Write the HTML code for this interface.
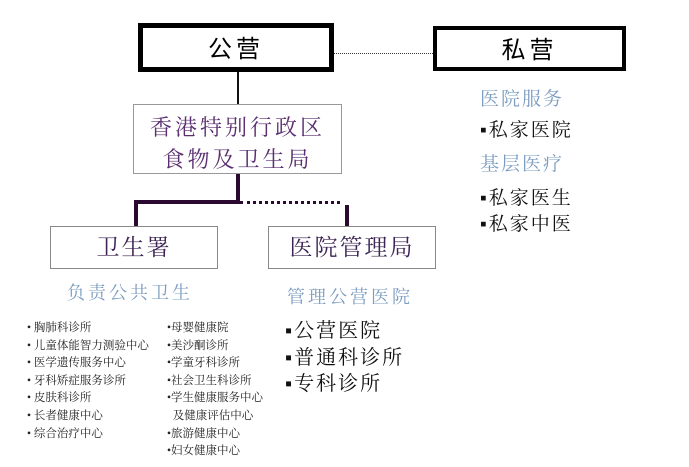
<!DOCTYPE html>
<html><head><meta charset="utf-8"><style>
body{margin:0;width:689px;height:467px;background:#fff;position:relative;overflow:hidden;font-family:"Liberation Serif","Noto Serif CJK SC",serif}
div{position:absolute;box-sizing:border-box}
.t{white-space:nowrap;line-height:1}
.blue{color:#7b9cc0}
.s{font-size:11.5px;color:#222;line-height:17.6px;white-space:nowrap}
</style></head><body>
<div style="left:138px;top:23px;width:196px;height:49px;border:5px solid #000"></div>
<div class="t" style="left:138px;top:35px;width:196px;text-align:center;font-size:24px;font-family:'Noto Sans CJK SC',sans-serif;letter-spacing:4px">公营</div>
<div style="left:433px;top:26px;width:193px;height:45px;border:4px solid #000"></div>
<div class="t" style="left:433px;top:36px;width:193px;text-align:center;font-size:24px;font-family:'Noto Sans CJK SC',sans-serif;letter-spacing:4px">私营</div>
<div style="left:334px;top:53px;width:99px;border-top:1.5px dotted #333"></div>
<div style="left:237px;top:72px;width:2px;height:32px;background:#111"></div>
<div style="left:133px;top:104px;width:209px;height:70px;border:1px solid #999"></div>
<div class="t" style="left:133px;top:112px;width:209px;text-align:center;font-size:22px;color:#5a2e70;line-height:32px;letter-spacing:3px">香港特别行政区<br>食物及卫生局</div>
<div style="left:236px;top:174px;width:4px;height:30px;background:#2a0a30"></div>
<div style="left:134px;top:200px;width:106px;height:4px;background:#2a0a30"></div>
<div style="left:240px;top:201px;width:100px;border-top:3px dotted #2a0a30"></div>
<div style="left:134px;top:202px;width:4px;height:24px;background:#2a0a30"></div>
<div style="left:345px;top:205px;width:4px;height:21px;background:#2a0a30"></div>
<div style="left:50px;top:226px;width:168px;height:43px;border:1px solid #888"></div>
<div class="t" style="left:50px;top:236px;width:168px;text-align:center;font-size:23px;color:#3d2455;letter-spacing:2px">卫生署</div>
<div style="left:268px;top:226px;width:168px;height:43px;border:1px solid #888"></div>
<div class="t" style="left:268px;top:236px;width:168px;text-align:center;font-size:23px;color:#3d2455;letter-spacing:2px">医院管理局</div>
<div class="t blue" style="left:67px;top:284px;font-size:18px;letter-spacing:3px">负责公共卫生</div>
<div class="t blue" style="left:287px;top:288px;font-size:18px;letter-spacing:3px">管理公营医院</div>
<div class="t" style="left:285px;top:318px;font-size:20px;line-height:26.5px;color:#111;letter-spacing:2px">▪公营医院<br>▪普通科诊所<br>▪专科诊所</div>
<div class="t blue" style="left:480px;top:90px;font-size:19px;letter-spacing:2px">医院服务</div>
<div class="t" style="left:480px;top:121px;font-size:19px;color:#111;letter-spacing:2px">▪私家医院</div>
<div class="t blue" style="left:480px;top:155px;font-size:19px;letter-spacing:2px">基层医疗</div>
<div class="t" style="left:480px;top:186px;font-size:19px;color:#111;line-height:26px;letter-spacing:2px">▪私家医生<br>▪私家中医</div>
<div class="s" style="left:27px;top:320px">• 胸肺科诊所<br>• 儿童体能智力测验中心<br>• 医学遗传服务中心<br>• 牙科矫症服务诊所<br>• 皮肤科诊所<br>• 长者健康中心<br>• 综合治疗中心</div>
<div class="s" style="left:167px;top:320px">•母婴健康院<br>•美沙酮诊所<br>•学童牙科诊所<br>•社会卫生科诊所<br>•学生健康服务中心<br>&nbsp;&nbsp;及健康评估中心<br>•旅游健康中心<br>•妇女健康中心</div>
</body></html>
